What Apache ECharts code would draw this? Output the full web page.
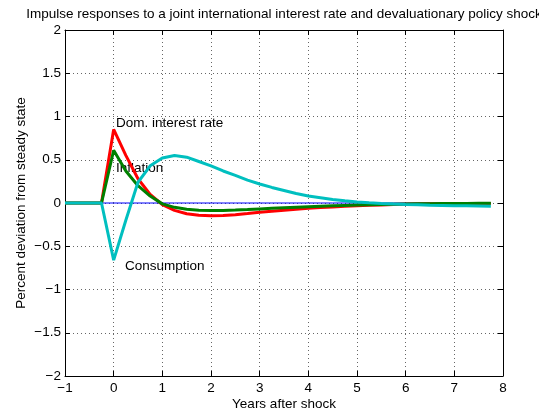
<!DOCTYPE html>
<html>
<head>
<meta charset="utf-8">
<script src="https://cdn.jsdelivr.net/npm/echarts@6/dist/echarts.min.js"></script>
<style>
  html, body { margin: 0; padding: 0; background: #fff; }
  #main { width: 539px; height: 414px; }
</style>
</head>
<body>
<div id="main"></div>
<script>
// quarterly horizon, years after shock
const years = [
  -1, -0.75, -0.5, -0.25, 0, 0.25, 0.5, 0.75, 1, 1.25, 1.5, 1.75,
  2, 2.25, 2.5, 2.75, 3, 3.25, 3.5, 3.75, 4, 4.25, 4.5, 4.75,
  5, 5.25, 5.5, 5.75, 6, 6.25, 6.5, 6.75, 7, 7.25, 7.5, 7.75
];

const interestRate = [
  0, 0, 0, 0, 0.85, 0.55, 0.28, 0.1, -0.02, -0.085, -0.125, -0.142,
  -0.148, -0.145, -0.135, -0.122, -0.108, -0.095, -0.083, -0.072, -0.062, -0.053, -0.045, -0.038,
  -0.032, -0.027, -0.022, -0.018, -0.015, -0.012, -0.01, -0.008, -0.007, -0.006, -0.005, -0.005
];

const inflation = [
  0, 0, 0, 0, 0.61, 0.37, 0.2, 0.08, -0.01, -0.05, -0.072, -0.083,
  -0.087, -0.086, -0.082, -0.076, -0.068, -0.061, -0.054, -0.048, -0.042, -0.037, -0.032, -0.028,
  -0.024, -0.02, -0.017, -0.014, -0.012, -0.01, -0.008, -0.007, -0.006, -0.005, -0.004, -0.004
];

const consumption = [
  0, 0, 0, 0, -0.66, -0.2, 0.24, 0.43, 0.52, 0.55, 0.53, 0.48,
  0.43, 0.37, 0.32, 0.265, 0.22, 0.18, 0.145, 0.11, 0.08, 0.06, 0.04, 0.025,
  0.012, 0.002, -0.006, -0.012, -0.017, -0.021, -0.025, -0.028, -0.031, -0.033, -0.035, -0.037
];

const zeroLine = years.map(() => 0);

const pairs = vals => years.map((x, i) => [x, vals[i]]);
const minusFmt = v => String(v).replace('-', '\u2212');

const chart = echarts.init(document.getElementById('main'), null, { renderer: 'canvas' });

const FONT = 'Liberation Sans, Arial, Helvetica, sans-serif';
const FS = 13.5;
const gridLine = { show: true, lineStyle: { color: '#666', type: [1, 3], width: 1 } };
const boxLine = { show: true, onZero: false, lineStyle: { color: '#000', width: 1 } };
const tickIn = { show: true, inside: true, length: 5, lineStyle: { color: '#000' } };

const option = {
  animation: false,
  textStyle: { fontFamily: FONT },
  grid: { left: 65, right: 36, top: 30, bottom: 38, outerBoundsMode: 'none', containLabel: false },
  xAxis: [{
    type: 'value', min: -1, max: 8, interval: 1,
    name: 'Years after shock', nameLocation: 'middle', nameGap: 21, nameMoveOverlap: false,
    nameTextStyle: { color: '#000', fontSize: FS, fontFamily: FONT },
    axisLine: boxLine, axisTick: tickIn, splitLine: gridLine,
    axisLabel: { color: '#000', fontSize: FS, margin: 5, formatter: minusFmt, fontFamily: FONT }
  }, {
    type: 'value', min: -1, max: 8, interval: 1, position: 'top',
    axisLine: boxLine, axisTick: tickIn, splitLine: { show: false },
    axisLabel: { show: false }
  }],
  yAxis: [{
    type: 'value', min: -2, max: 2, interval: 0.5,
    name: 'Percent deviation from steady state', nameLocation: 'middle', nameGap: 37, nameMoveOverlap: false,
    nameTextStyle: { color: '#000', fontSize: FS, fontFamily: FONT },
    axisLine: boxLine, axisTick: tickIn, splitLine: gridLine,
    axisLabel: { color: '#000', fontSize: FS, margin: 4, formatter: minusFmt, fontFamily: FONT }
  }, {
    type: 'value', min: -2, max: 2, interval: 0.5, position: 'right',
    axisLine: boxLine, axisTick: tickIn, splitLine: { show: false },
    axisLabel: { show: false }
  }],
  graphic: [
    { type: 'text', x: 284, y: 14,
      style: { text: 'Impulse responses to a joint international interest rate and devaluationary policy shock',
        font: FS + 'px ' + FONT, fill: '#000', align: 'center', verticalAlign: 'middle' } },
    { type: 'text', x: 116, y: 123,
      style: { text: 'Dom. interest rate', font: FS + 'px ' + FONT, fill: '#000', verticalAlign: 'middle' } },
    { type: 'text', x: 116, y: 168,
      style: { text: 'Inflation', font: FS + 'px ' + FONT, fill: '#000', verticalAlign: 'middle' } },
    { type: 'text', x: 125, y: 266,
      style: { text: 'Consumption', font: FS + 'px ' + FONT, fill: '#000', verticalAlign: 'middle' } }
  ],
  series: [
    { name: 'zero', type: 'line', data: pairs(zeroLine), showSymbol: false, silent: true,
      lineStyle: { color: '#0000ff', width: 1 } },
    { name: 'Dom. interest rate', type: 'line', data: pairs(interestRate), showSymbol: false,
      lineStyle: { color: '#ff0000', width: 3 } },
    { name: 'Inflation', type: 'line', data: pairs(inflation), showSymbol: false,
      lineStyle: { color: '#008000', width: 3 } },
    { name: 'Consumption', type: 'line', data: pairs(consumption), showSymbol: false,
      lineStyle: { color: '#00bfbf', width: 3 } }
  ]
};

chart.setOption(option);
</script>
</body>
</html>
